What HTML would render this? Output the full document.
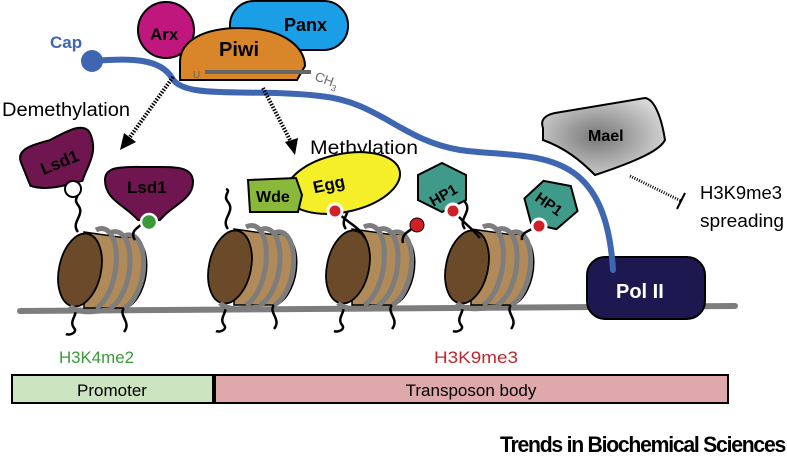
<!DOCTYPE html>
<html><head><meta charset="utf-8"><style>
html,body{margin:0;padding:0;background:#fff;width:787px;height:459px;overflow:hidden}
svg text{font-family:"Liberation Sans",sans-serif}
</style></head><body>
<svg width="787" height="459" viewBox="0 0 787 459" xmlns="http://www.w3.org/2000/svg">
<defs>
<radialGradient id="mg" cx="0.45" cy="0.5" r="0.6"><stop offset="0" stop-color="#777"/><stop offset="1" stop-color="#d8d8d8"/></radialGradient>
<g id="nuc">
  <path d="M-2,-38 C-10,-48 6,-55 -2,-65 C-8,-72 2,-76 -4,-78" fill="none" stroke="#000" stroke-width="2.5"/>
  <path d="M-6,36 C0,44 -12,50 -6,58 C-2,62 -10,66 -14,64" fill="none" stroke="#000" stroke-width="2.5"/>
  <path d="M44,38 C38,46 52,52 44,62" fill="none" stroke="#000" stroke-width="2.5"/>
  <path d="M4,-38 L46,-32 A20,36 10 0 1 46,38 L4,38 Z" fill="#b08a58" stroke="#000" stroke-width="1.5"/>
  <path d="M16,-40 A18,38 10 0 1 16,38" fill="none" stroke="#7d7d7d" stroke-width="5"/>
  <path d="M30,-37 A18,37 10 0 1 30,38" fill="none" stroke="#7d7d7d" stroke-width="5"/>
  <path d="M44,-34 A18,36 10 0 1 44,38" fill="none" stroke="#7d7d7d" stroke-width="5"/>
  <ellipse cx="0" cy="0" rx="21" ry="37" transform="rotate(12)" fill="#6b4a2a" stroke="#000" stroke-width="1.8"/>
  <path d="M-10,36 C0,46 20,40 30,40" fill="none" stroke="#7d7d7d" stroke-width="5"/>
</g>
</defs>
<line x1="20" y1="311" x2="735" y2="306" stroke="#7d7d7d" stroke-width="6" stroke-linecap="round"/>
<use href="#nuc" x="80" y="270"/>
<use href="#nuc" x="230" y="267"/>
<use href="#nuc" x="348" y="267"/>
<use href="#nuc" x="467" y="267"/>
<path d="M135,240 C128,230 142,226 144,222" fill="none" stroke="#000" stroke-width="2.5"/>
<path d="M365,238 C358,225 345,222 338,212" fill="none" stroke="#000" stroke-width="2.5"/>
<path d="M403,243 C400,232 414,230 416,225" fill="none" stroke="#000" stroke-width="2.5"/>
<path d="M480,238 C470,226 462,222 455,212" fill="none" stroke="#000" stroke-width="2.5"/>
<path d="M522,240 C520,232 532,230 538,226" fill="none" stroke="#000" stroke-width="2.5"/>
<rect x="587" y="257" width="118" height="62" rx="18" fill="#1d1850" stroke="#000" stroke-width="2"/>
<text x="616" y="298" font-size="20" font-weight="bold" fill="#fff">Pol II</text>
<path d="M92,61 C130,58 160,58 172,78 C184,100 250,88 320,96 C380,102 400,140 460,150 C530,160 605,140 613,270" fill="none" stroke="#3f67b1" stroke-width="6" stroke-linecap="round"/>
<circle cx="92" cy="61" r="11" fill="#3f67b1"/>
<text x="50" y="48" font-size="17" font-weight="bold" fill="#3f67b1">Cap</text>
<rect x="230" y="1" width="118" height="49" rx="24" fill="#1a9ee6" stroke="#000" stroke-width="2"/>
<text x="284" y="31" font-size="18" font-weight="bold">Panx</text>
<circle cx="166" cy="30" r="28" fill="#c0177f" stroke="#000" stroke-width="2"/>
<text x="150" y="40" font-size="17" font-weight="bold">Arx</text>
<path d="M180,80 L180,62 C180,40 205,28 240,28 C285,28 305,48 305,66 L297,80 Z" fill="#d9862a" stroke="#000" stroke-width="2"/>
<text x="219" y="56" font-size="20" font-weight="bold">Piwi</text>
<line x1="205" y1="72" x2="311" y2="72" stroke="#666" stroke-width="4"/>
<text x="193" y="78" font-size="10" fill="#666">U</text>
<text x="314" y="80" font-size="13" fill="#666" transform="rotate(20 314 80)">CH<tspan font-size="9" dy="4">3</tspan></text>
<text x="2" y="116" font-size="19" textLength="128" lengthAdjust="spacingAndGlyphs">Demethylation</text>
<line x1="173" y1="77" x2="130" y2="137" stroke="#000" stroke-width="4" stroke-dasharray="1.5 1.5"/>
<path d="M120,150 L124,133 L136,142 Z" fill="#000"/>
<line x1="263" y1="88" x2="290" y2="140" stroke="#000" stroke-width="4" stroke-dasharray="1.5 1.5"/>
<path d="M295,155 L285,142 L298,138 Z" fill="#000"/>
<text x="310" y="154" font-size="19" textLength="108" lengthAdjust="spacingAndGlyphs">Methylation</text>
<g transform="translate(6,8) rotate(-22 55 160)">
<path d="M20,140 C20,125 40,128 55,130 C75,128 95,125 95,140 C95,160 80,168 70,180 C60,178 35,178 20,165 Z" fill="#6f1650" stroke="#000" stroke-width="2"/>
<text x="36" y="160" font-size="17" font-weight="bold">Lsd1</text>
</g>
<circle cx="73" cy="189" r="8" fill="#fff" stroke="#000" stroke-width="2"/>
<path d="M105,180 C105,165 125,167 148,167 C172,167 193,165 193,182 C193,200 172,205 160,220 L138,220 C125,205 105,200 105,180 Z" fill="#6f1650" stroke="#000" stroke-width="2"/>
<text x="127" y="193" font-size="17" font-weight="bold">Lsd1</text>
<circle cx="149" cy="222" r="8" fill="#3a9a3a" stroke="#fff" stroke-width="2.5"/>
<ellipse cx="343" cy="183" rx="58" ry="29" transform="rotate(-12 343 183)" fill="#f5ef2a" stroke="#000" stroke-width="2"/>
<text x="313" y="190" font-size="17" font-weight="bold" transform="rotate(-12 330 185)">Egg</text>
<path d="M248,180 L296,178 L302,195 L298,212 L250,212 Z" fill="#8ab83a" stroke="#000" stroke-width="2"/>
<text x="256" y="202" font-size="16" font-weight="bold">Wde</text>
<circle cx="335" cy="211" r="7" fill="#d01f26" stroke="#fff" stroke-width="3"/>
<path d="M442,163 L466,175 L466,200 L442,212 L418,200 L418,175 Z" fill="#3f9a8a" stroke="#000" stroke-width="2"/>
<text x="425" y="200" font-size="15" font-weight="bold" transform="rotate(-30 442 188)">HP1</text>
<path d="M550,180 L575,192 L575,218 L550,230 L527,218 L527,192 Z" fill="#3f9a8a" stroke="#000" stroke-width="2" transform="rotate(-15 550 205)"/>
<text x="534" y="210" font-size="15" font-weight="bold" transform="rotate(35 550 205)">HP1</text>
<circle cx="417" cy="225" r="7" fill="#d01f26" stroke="#000" stroke-width="1"/>
<circle cx="453" cy="211" r="7" fill="#d01f26" stroke="#fff" stroke-width="3"/>
<circle cx="539" cy="226" r="7" fill="#d01f26" stroke="#fff" stroke-width="3"/>
<path d="M543,128 C540,120 545,115 555,113 L645,98 C655,99 662,120 665,140 C660,150 640,160 595,175 C580,160 565,148 543,140 Z" fill="url(#mg)" stroke="#000" stroke-width="2"/>
<text x="588" y="141" font-size="16" font-weight="bold">Mael</text>
<line x1="630" y1="176" x2="681" y2="201" stroke="#000" stroke-width="3" stroke-dasharray="1 1.5"/>
<line x1="677" y1="209" x2="685" y2="193" stroke="#000" stroke-width="2"/>
<text x="700" y="199" font-size="18" textLength="82" lengthAdjust="spacingAndGlyphs">H3K9me3</text>
<text x="700" y="227" font-size="18" textLength="84" lengthAdjust="spacingAndGlyphs">spreading</text>
<text x="59" y="363" font-size="17" fill="#3a9a3a" textLength="75" lengthAdjust="spacingAndGlyphs">H3K4me2</text>
<text x="434" y="363" font-size="17" fill="#c0272d" textLength="84" lengthAdjust="spacingAndGlyphs">H3K9me3</text>
<rect x="12" y="375" width="201" height="28" fill="#cde4c0" stroke="#000" stroke-width="2"/>
<text x="112" y="396" font-size="17" text-anchor="middle">Promoter</text>
<rect x="215" y="375" width="513" height="28" fill="#dfa9ab" stroke="#000" stroke-width="2"/>
<text x="471" y="396" font-size="17" text-anchor="middle">Transposon body</text>
<text x="500" y="452" font-size="22" font-weight="bold" letter-spacing="-1.3" textLength="285" lengthAdjust="spacingAndGlyphs">Trends in Biochemical Sciences</text>
</svg>
</body></html>
